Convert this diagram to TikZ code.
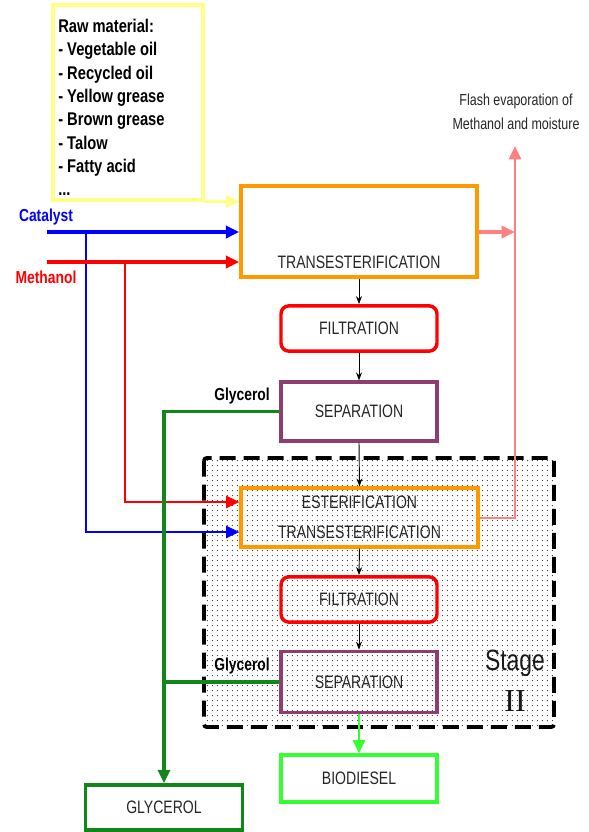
\documentclass[tikz,border=0pt]{standalone}
\usepackage{fontspec}
\setmainfont{Liberation Sans}
\newfontfamily\boxfont[FakeStretch=0.78]{Liberation Sans}
\newfontfamily\labfont[FakeStretch=0.8]{Liberation Sans}
\newfontfamily\romfont{Liberation Serif}
\usetikzlibrary{arrows.meta,patterns.meta}
\definecolor{rawyel}{HTML}{FFFF88}
\definecolor{orng}{HTML}{FF9900}
\definecolor{purp}{HTML}{8E3E6E}
\definecolor{pinkc}{HTML}{FF8080}
\definecolor{dgreen}{HTML}{11861A}
\definecolor{lgreen}{HTML}{33FF33}
\definecolor{bluec}{HTML}{0000FF}
\definecolor{redc}{HTML}{FF0000}
\begin{document}
\begin{tikzpicture}[x=0.75pt,y=-0.75pt,
  procbox/.style={draw,line width=2.6pt,inner sep=0pt,minimum width=117pt},
  boxtxt/.style={font=\boxfont\fontsize{13.5pt}{16pt}\selectfont,text=black!85},
  labtxt/.style={font=\labfont\bfseries\fontsize{13pt}{15pt}\selectfont},
  tip/.style={-{Triangle[length=10pt,width=9pt,fill=#1]}},
  flow/.style={line width=2.8pt},
  branch/.style={line width=1.7pt},
  blk/.style={line width=0.7pt,-{Stealth[length=6pt,width=4.5pt]}}
]
\useasboundingbox (0,0) rectangle (589,832);
% Stage II region
\fill[pattern={Dots[distance=4pt,radius=0.5pt]},pattern color=black!80] (204,458) rectangle (554,727);
\draw[line width=2.8pt,dash pattern=on 12pt off 6pt,rounded corners=2pt] (204,458) rectangle (554,727);

% raw material
\node[draw=rawyel,line width=2.6pt,minimum width=112.5pt,minimum height=146pt,inner sep=0pt] (raw) at (128,102.5) {};
\node[anchor=north west,align=left,inner sep=0pt,font=\labfont\bfseries\fontsize{13.8pt}{17.5pt}\selectfont] (rawtxt) at (58,19) {Raw material:\\- Vegetable oil\\- Recycled oil\\- Yellow grease\\- Brown grease\\- Talow\\- Fatty acid\\...};

% process boxes
\node[procbox,draw=orng,minimum width=177pt,minimum height=68pt] (trans) at (359,231.5) {};
\node[boxtxt] (transtxt) at (359,262) {TRANSESTERIFICATION};
\node[procbox,draw=redc,minimum height=34pt,rounded corners=6pt,boxtxt] (filt1) at (359,328.5) {FILTRATION};
\node[procbox,draw=purp,minimum height=44pt,boxtxt] (sep1) at (359,411.5) {SEPARATION};
\node[procbox,draw=orng,minimum width=177.5pt,minimum height=44pt] (ester) at (359.5,517.5) {};
\node[boxtxt] (estxt1) at (359.5,502) {ESTERIFICATION};
\node[boxtxt] (estxt2) at (359.5,532) {TRANSESTERIFICATION};
\node[procbox,draw=redc,minimum height=34pt,rounded corners=6pt,boxtxt] (filt2) at (359,599.5) {FILTRATION};
\node[procbox,draw=purp,minimum height=46pt,boxtxt] (sep2) at (359,682) {SEPARATION};
\node[procbox,draw=lgreen,minimum height=35pt,boxtxt] (bio) at (359,778.5) {BIODIESEL};
\node[procbox,draw=dgreen,minimum width=118pt,minimum height=34pt,boxtxt] (gly) at (164,807.5) {GLYCEROL};

% labels
\node[labtxt,text=bluec] (catl) at (46,217) {Catalyst};
\node[labtxt,text=redc] (meth) at (46,277) {Methanol};
\node[labtxt] (gl1) at (242,396) {Glycerol};
\node[labtxt] (gl2) at (242,666) {Glycerol};
\node[font=\boxfont\fontsize{12pt}{18pt}\selectfont,align=center,text=black!85] (flash) at (516,112) {Flash evaporation of\\Methanol and moisture};
\node[font=\boxfont\fontsize{22pt}{24pt}\selectfont,text=black!90] (stage) at (515,663) {Stage};
\node[font=\romfont\fontsize{24pt}{26pt}\selectfont,text=black!90] (stageii) at (515,701) {II};

% coordinates
\coordinate (cs) at (47,232);
\coordinate (ms) at (47,262);
\coordinate (pk) at (515,232);
\coordinate (pktop) at (515,146);
\coordinate (pkbot) at (515,518);

% raw material arrow
\draw[flow,draw=rawyel,tip=rawyel] (raw.south east) -- (trans.west |- raw.south east);
% catalyst
\draw[flow,draw=bluec,tip=bluec] (cs) -- (trans.west |- cs);
\draw[branch,draw=bluec,tip=bluec] (86,232) -- (86,532) -- (ester.west |- 0,532);
% methanol
\draw[flow,draw=redc,tip=redc] (ms) -- (trans.west |- ms);
\draw[branch,draw=redc,tip=redc] (125,262) -- (125,502) -- (ester.west |- 0,502);
% flash evaporation
\draw[flow,draw=pinkc,tip=pinkc] (trans.east |- pk) -- (pk);
\draw[branch,line width=2pt,draw=pinkc,tip=pinkc] (ester.east |- pkbot) -- (pkbot) -- (pktop);

% main chain
\draw[blk] (trans.south) -- (filt1.north);
\draw[blk] (filt1.south) -- (sep1.north);
\draw[blk] (sep1.south) -- (ester.north);
\draw[blk] (ester.south) -- (filt2.north);
\draw[blk] (filt2.south) -- (sep2.north);
\draw[line width=2pt,draw=lgreen,tip=lgreen] (sep2.south) -- (bio.north);

% glycerol
\draw[line width=2.4pt,draw=dgreen,tip=dgreen] (sep1.west) -- (164,411.5) -- (gly.north);
\draw[line width=2.4pt,draw=dgreen] (sep2.west) -- (164,682);
\end{tikzpicture}
\end{document}
